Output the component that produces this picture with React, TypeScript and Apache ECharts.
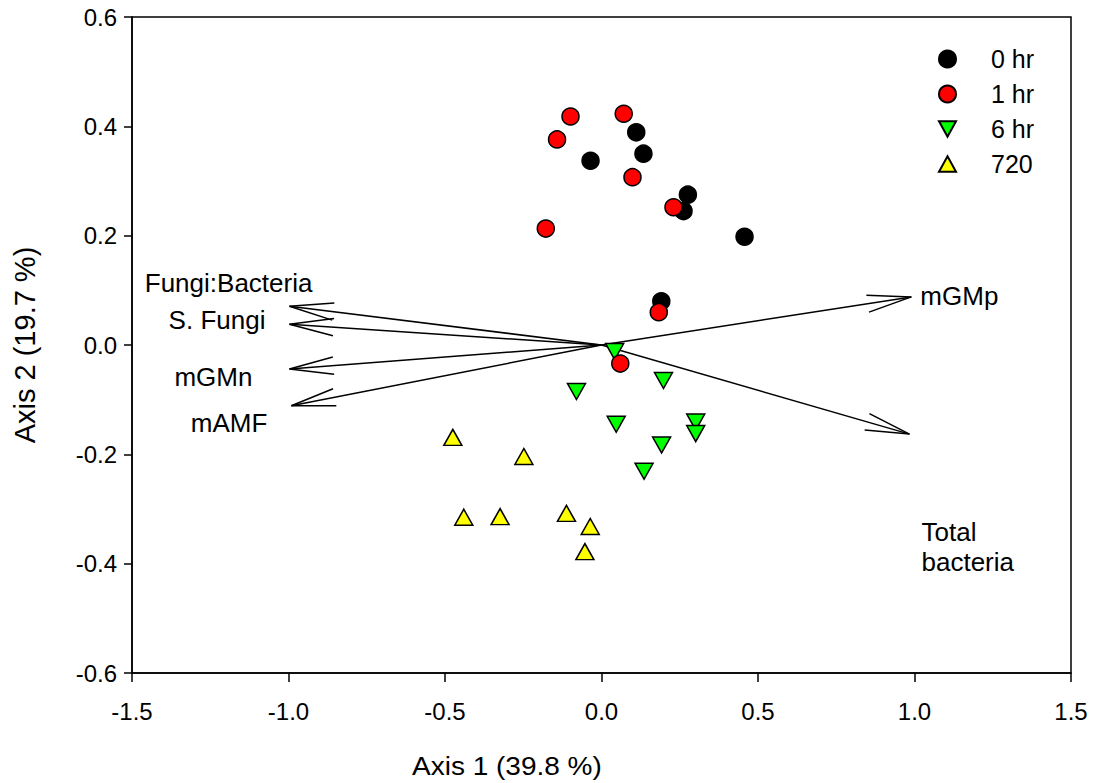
import React, { useEffect, useRef } from "react";
import * as echarts from "echarts";

// Sample scores (Axis 1, Axis 2)
const hr0X = [0.111, 0.134, -0.035, 0.276, 0.262, 0.457, 0.191];
const hr0Y = [0.389, 0.350, 0.337, 0.275, 0.245, 0.198, 0.080];
const hr1X = [-0.099, 0.071, -0.142, 0.099, 0.230, -0.178, 0.183, 0.060];
const hr1Y = [0.418, 0.423, 0.376, 0.307, 0.252, 0.213, 0.060, -0.034];
const hr6X = [0.042, 0.198, -0.080, 0.047, 0.301, 0.301, 0.192, 0.136];
const hr6Y = [-0.012, -0.065, -0.085, -0.145, -0.141, -0.162, -0.183, -0.231];
const d720X = [-0.475, -0.248, -0.440, -0.324, -0.112, -0.036, -0.053];
const d720Y = [-0.169, -0.204, -0.315, -0.314, -0.308, -0.332, -0.378];

// Biplot vectors
const arrowNames = ["Fungi:Bacteria", "S. Fungi", "mGMn", "mAMF", "mGMp", "Total\nbacteria"];
const arrowX = [-0.997, -0.997, -0.997, -0.991, 0.99, 0.984];
const arrowY = [0.071, 0.038, -0.044, -0.111, 0.088, -0.163];

const groupNames = ["0 hr", "1 hr", "6 hr", "720"];
const xTicks = [-1.5, 1.5, 0.5];
const yTicks = [-0.6, 0.6, 0.2];
const xTitle = "Axis 1 (39.8 %)";
const yTitle = "Axis 2 (19.7 %)";

// label layout (pixel offsets from arrow tip) – styling only
const labelOffsets: [number, number, string][] = [
  [23, -23, "right"],
  [-24, -4, "right"],
  [-37, 8, "right"],
  [-24, 17, "right"],
  [9, -1, "left"],
  [12, 113, "left"],
];

const FONT = "'Liberation Sans', Arial, Helvetica, sans-serif";
const downTri = "path://M0,0 L10,0 L5,9 Z";
const upTri = "path://M5,0 L10,9 L0,9 Z";

function pts(xs: number[], ys: number[]) {
  return xs.map((x, i) => [x, ys[i]]);
}

export default function App() {
  const ref = useRef<HTMLDivElement>(null);
  useEffect(() => {
    if (!ref.current) return;
    const chart = echarts.init(ref.current, null, { renderer: "svg" });
    const markerBase = { borderColor: "#000", borderWidth: 1.5, opacity: 1 };
    chart.setOption({
      animation: false,
      backgroundColor: "#fff",
      grid: {
        left: 132,
        right: 24,
        top: 17,
        bottom: 110,
        show: true,
        borderColor: "#000",
        borderWidth: 1.5,
        backgroundColor: "transparent",
      },
      legend: {
        data: groupNames,
        orient: "vertical",
        left: 933,
        top: 41,
        itemWidth: 17,
        itemHeight: 17,
        itemGap: 9,
        textStyle: { fontFamily: FONT, fontSize: 25, color: "#000", padding: [0, 0, 0, 30], lineHeight: 26 },
      },
      graphic: [
        {
          type: "text",
          x: 412,
          y: 754,
          scaleX: 1.12,
          style: { text: xTitle, fontFamily: FONT, fontSize: 25, fill: "#000", align: "left", verticalAlign: "top" },
        },
      ],
      xAxis: {
        type: "value",
        min: xTicks[0],
        max: xTicks[1],
        interval: xTicks[2],
        axisLine: { onZero: false, lineStyle: { color: "#000", width: 1.5 } },
        axisTick: { show: true, inside: false, length: 9, lineStyle: { color: "#000", width: 1.5 } },
        axisLabel: {
          fontFamily: FONT,
          fontSize: 24,
          color: "#000",
          margin: 26,
          formatter: (v: number) => v.toFixed(1),
        },
        splitLine: { show: false },
      },
      yAxis: {
        type: "value",
        min: yTicks[0],
        max: yTicks[1],
        interval: yTicks[2],
        name: yTitle,
        nameLocation: "middle",
        nameGap: 93,
        nameTextStyle: { fontFamily: FONT, fontSize: 29, color: "#000" },
        axisLine: { onZero: false, lineStyle: { color: "#000", width: 1.5 } },
        axisTick: { show: true, inside: false, length: 8, lineStyle: { color: "#000", width: 1.5 } },
        axisLabel: {
          fontFamily: FONT,
          fontSize: 24,
          color: "#000",
          margin: 15,
          formatter: (v: number) => v.toFixed(1),
        },
        splitLine: { show: false },
      },
      series: [
        {
          type: "custom",
          name: "vectors",
          z: 1,
          clip: false,
          data: pts(arrowX, arrowY),
          renderItem: (params: any, api: any) => {
            const i = params.dataIndex;
            const o = api.coord([0, 0]);
            const t = api.coord([api.value(0), api.value(1)]);
            const ang = Math.atan2(o[1] - t[1], o[0] - t[0]);
            const L = 45;
            const a = (11 * Math.PI) / 180;
            const b1 = [t[0] + L * Math.cos(ang + a), t[1] + L * Math.sin(ang + a)];
            const b2 = [t[0] + L * Math.cos(ang - a), t[1] + L * Math.sin(ang - a)];
            const off = labelOffsets[i];
            return {
              type: "group",
              children: [
                {
                  type: "line",
                  shape: { x1: o[0], y1: o[1], x2: t[0], y2: t[1] },
                  style: { stroke: "#000", lineWidth: 1.5 },
                },
                {
                  type: "polyline",
                  shape: { points: [b1, t, b2] },
                  style: { stroke: "#000", fill: null, lineWidth: 1.5 },
                },
                {
                  type: "text",
                  x: t[0] + off[0],
                  y: t[1] + off[1],
                  style: {
                    text: arrowNames[i],
                    fill: "#000",
                    fontFamily: FONT,
                    fontSize: 26,
                    lineHeight: 30,
                    align: off[2],
                    verticalAlign: "middle",
                  },
                },
              ],
            };
          },
        },
        {
          type: "scatter",
          name: "0 hr",
          z: 2,
          symbol: "circle",
          symbolSize: 17,
          data: pts(hr0X, hr0Y),
          itemStyle: { color: "#000", ...markerBase },
        },
        {
          type: "scatter",
          name: "6 hr",
          z: 2,
          symbol: downTri,
          symbolSize: [18, 16],
          data: pts(hr6X, hr6Y),
          itemStyle: { color: "#00ff00", ...markerBase },
        },
        {
          type: "scatter",
          name: "720",
          z: 2,
          symbol: upTri,
          symbolSize: [18, 16],
          data: pts(d720X, d720Y),
          itemStyle: { color: "#ffff00", ...markerBase },
        },
        {
          type: "scatter",
          name: "1 hr",
          z: 3,
          symbol: "circle",
          symbolSize: 17,
          data: pts(hr1X, hr1Y),
          itemStyle: { color: "#ff0000", ...markerBase },
        },
      ],
    });
    return () => chart.dispose();
  }, []);
  return (
    <div
      ref={ref}
      style={{ position: "fixed", left: 0, top: 0, width: 1095, height: 783, background: "#fff" }}
    />
  );
}
